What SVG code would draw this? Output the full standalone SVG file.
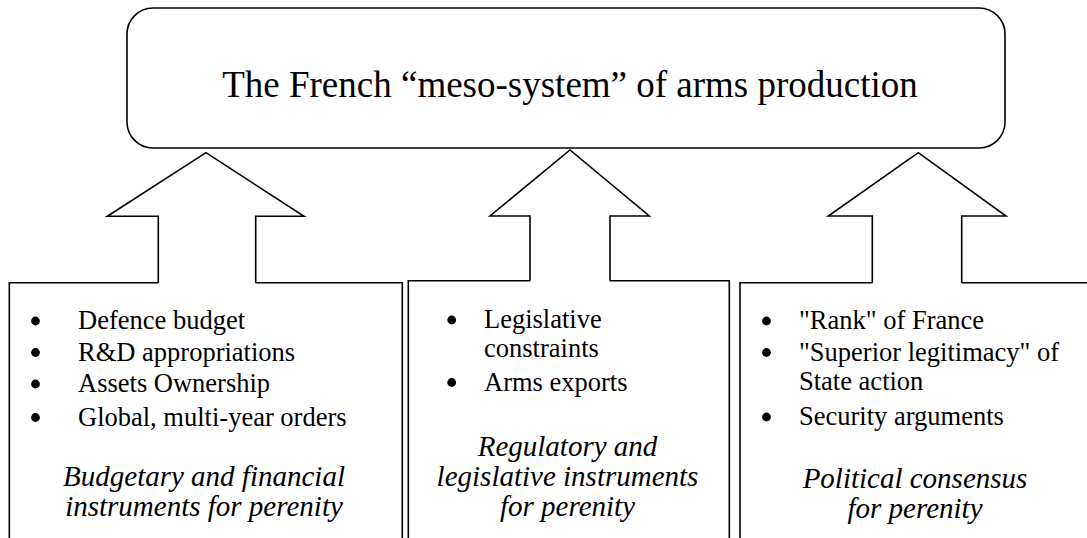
<svg xmlns="http://www.w3.org/2000/svg" width="1087" height="538" viewBox="0 0 1087 538">
<style>
.ln{fill:none;stroke:#000;stroke-width:1.6;stroke-linejoin:miter}
.t{fill:#000}
.title{font-size:37px}
.b{font-size:26.5px}
.i{font-size:29px;font-style:italic;text-anchor:middle}
.dot{fill:#000}
</style>
<defs>
<circle id="bullet" r="4.4" class="dot"/>
</defs>
<rect width="1087" height="538" fill="#fff"/>
<g font-family="'Liberation Serif', 'Times New Roman', Tinos, 'DejaVu Serif', serif">
<g id="top">
<rect class="ln" x="127" y="8" width="878" height="140" rx="26" ry="26"/>
<text class="t title" x="570" y="97" text-anchor="middle">The French “meso-system” of arms production</text>
</g>
<g id="budgetary">
<path class="ln" d="M9.3 540 V282.7 H158.3 M255.7 282.7 H402.3 V540"/>
<use href="#bullet" x="35.5" y="321"/>
<text class="t b" x="78" y="329">Defence budget</text>
<use href="#bullet" x="35.5" y="352.5"/>
<text class="t b" x="78" y="360.5">R&amp;D appropriations</text>
<use href="#bullet" x="35.5" y="384"/>
<text class="t b" x="78" y="392">Assets Ownership</text>
<use href="#bullet" x="35.5" y="417.5"/>
<text class="t b" x="78" y="425.5">Global, multi-year orders</text>
<text class="t i" x="204" y="485.5">Budgetary and financial</text>
<text class="t i" x="204" y="515.5">instruments for perenity</text>
</g>
<g id="regulatory">
<path class="ln" d="M408.3 540 V280.7 H530 M610 280.7 H729.3 V540"/>
<use href="#bullet" x="451.7" y="320"/>
<text class="t b" x="484" y="328">Legislative</text>
<text class="t b" x="484" y="357">constraints</text>
<use href="#bullet" x="451.7" y="382.5"/>
<text class="t b" x="484" y="390.5">Arms exports</text>
<text class="t i" x="567.5" y="455.5">Regulatory and</text>
<text class="t i" x="567.5" y="485.5">legislative instruments</text>
<text class="t i" x="567.5" y="515.5">for perenity</text>
</g>
<g id="political">
<path class="ln" d="M740 540 V282.7 H872.3 M961.7 282.7 H1090"/>
<use href="#bullet" x="766.5" y="321"/>
<text class="t b" x="799" y="329">"Rank" of France</text>
<use href="#bullet" x="766.5" y="352.5"/>
<text class="t b" x="799" y="360.5">"Superior legitimacy" of</text>
<text class="t b" x="799" y="390">State action</text>
<use href="#bullet" x="766.5" y="417"/>
<text class="t b" x="799" y="425">Security arguments</text>
<text class="t i" x="915" y="488">Political consensus</text>
<text class="t i" x="915" y="518">for perenity</text>
</g>
</g>
<g id="connectors">
<path class="ln" d="M158.3 282.7 V216.3 H107.3 L206 152.7 L304 216.3 H255.7 V282.7"/>
<path class="ln" d="M530 280.7 V216 H490 L570 150 L649.3 216 H610 V280.7"/>
<path class="ln" d="M872.3 282.7 V216 H828.3 L918.3 152.7 L1006 216 H961.7 V282.7"/>
</g>
</svg>
